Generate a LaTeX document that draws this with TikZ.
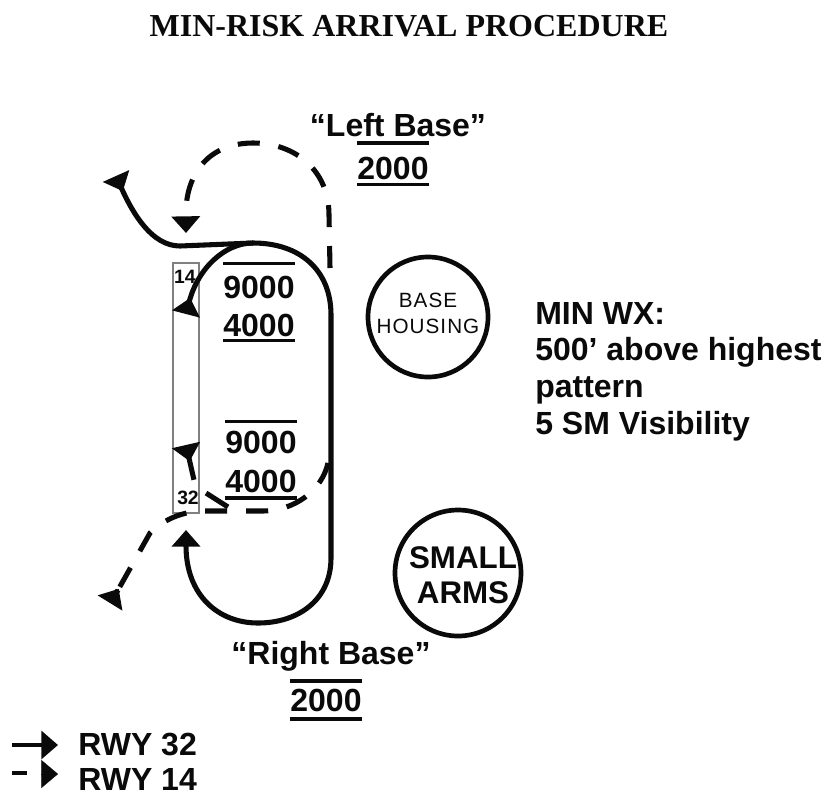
\documentclass[tikz,border=0pt]{standalone}
\usepackage{fontspec}
\setmainfont{Liberation Sans}
\newfontfamily\titlefont{Liberation Serif}
\newfontfamily\spacedfont[LetterSpace=5]{Liberation Sans}
\usepackage{xcolor}
\usetikzlibrary{arrows.meta,positioning}
\definecolor{ink}{HTML}{0A0A0A}
\definecolor{strip}{HTML}{808080}
\tikzset{
  every node/.style={font=\fontsize{24}{27}\selectfont\bfseries,text=ink,inner sep=0pt},
  rwysolid/.style={draw=ink,line width=3.8pt},
  rwydash/.style={draw=ink,line width=3.8pt,dash pattern=on 16.5pt off 14.2pt},
  rulebar/.style={draw=ink,line width=2.5pt},
  keyline/.style={draw=ink,line width=2.4pt},
  headin/.style={-{Triangle[length=12.5pt,width=21pt]}},
  headout/.style={-{Triangle[reversed,length=12.5pt,width=21pt]}},
  alt/.style={minimum width=53pt,minimum height=11.5pt,text depth=0pt},
  zone/.style={circle,draw=ink,line width=3.5pt,align=center},
}
\begin{document}
\begin{tikzpicture}[x=0.75pt,y=-0.75pt]
  \useasboundingbox (0,0) rectangle (824,793);
  \node[font=\fontsize{24}{27}\selectfont\bfseries\titlefont] (title) at (409,26) {MIN-RISK ARRIVAL PROCEDURE};

  \node[draw=strip,line width=1.5pt,minimum width=20pt,minimum height=187.5pt] (rwy) at (186,388) {};
  \node[font=\fontsize{14.5}{16}\selectfont\bfseries] (num14) at (185,277) {14};
  \node[font=\fontsize{14.5}{16}\selectfont\bfseries] (num32) at (188,498) {32};

  \coordinate (exit14) at (116,176);
  \coordinate (top) at (253,243);
  \coordinate (topr) at (331,315);
  \coordinate (botr) at (331,558);
  \coordinate (bot) at (258,623);
  \coordinate (land32) at (186,530);
  \coordinate (land14) at (186,233);
  \coordinate (head14) at (186,314);
  \coordinate (head32) at (186,445);
  \coordinate (exit32) at (110,603);

  \draw[rwysolid,headout] (top) .. controls (225,243) and (198,268) .. (head14);
  \draw[rwysolid,headout] (top) -- (180,246) .. controls (152,246) and (133,214) .. (exit14);
  \draw[rwysolid,headin] (top) .. controls (300,243) and (331,270) .. (topr) -- (botr)
    .. controls (331,600) and (298,623) .. (bot) .. controls (218,623) and (186,595) .. (land32);

  \draw[rwydash,headin] (330,268) -- (329,215) .. controls (329,170) and (295,143) .. (253,143)
    .. controls (212,143) and (185,170) .. (land14);
  \draw[rwydash] (328,463) .. controls (322,490) and (295,511) .. (262,511) -- (205,511)
    .. controls (185,511) and (165,518) .. (150,533) -- (118,590);
  \draw[rwydash,headout] (118,590) -- (exit32);
  \draw[rwydash,headout,dash pattern=on 19.5pt off 13.5pt] (228,507) -- (206,493) -- (194,480) -- (head32);

  \node[alt,minimum height=34.5pt] (a1) at (259,287) {9000};
  \node[alt,minimum height=23pt] (b1) at (259,325) {4000};
  \node[alt,minimum height=30pt] (a2) at (261,442) {9000};
  \node[alt,minimum height=25pt] (b2) at (261,481) {4000};
  \draw[rulebar] (a1.north west) -- (a1.north east);
  \draw[rulebar] (b1.south west) -- (b1.south east);
  \draw[rulebar] (a2.north west) -- (a2.north east);
  \draw[rulebar] (b2.south west) -- (b2.south east);

  \node (leftbase) at (398,125) {“Left Base”};
  \node[minimum width=51pt,minimum height=24pt] (leftalt) at (393,168) {2000};
  \draw[rulebar] ([yshift=6.5pt]leftalt.north west) -- ([yshift=6.5pt]leftalt.north east);
  \draw[rulebar] (leftalt.south west) -- (leftalt.south east);

  \node (rightbase) at (331,656) {“Right Base”};
  \node[minimum width=53pt,minimum height=28pt] (rightalt) at (326,700) {2000};
  \draw[rulebar] (rightalt.north west) -- (rightalt.north east);
  \draw[rulebar] (rightalt.south west) -- (rightalt.south east);

  \node[zone,minimum size=90pt] (housing) at (428,317) {};
  \node[font=\fontsize{15.5}{19.5}\selectfont\spacedfont,align=center] (housingtxt) at (428,313) {BASE\\HOUSING};
  \node[zone,minimum size=94.5pt] (arms) at (458,573) {};
  \node[font=\fontsize{23.5}{26.5}\selectfont\bfseries,align=center] (armstxt) at (463,575) {SMALL\\ARMS};

  \node[anchor=west,align=left,font=\fontsize{24}{27.5}\selectfont\bfseries] (minwx) at (535,371.5) {MIN WX:\\500’ above highest\\pattern\\5 SM Visibility};

  \coordinate (s1) at (12,745);
  \coordinate (s2) at (58,745);
  \coordinate (d1) at (12,773);
  \coordinate (d2) at (27,773);
  \coordinate (d3) at (42,774);
  \coordinate (d4) at (58,774);
  \draw[keyline,headin] (s1) -- (s2);
  \draw[keyline] (d1) -- (d2);
  \draw[draw=ink,line width=0.2pt,headin] (d3) -- (d4);
  \node[anchor=west] (key32) at (78,744) {RWY 32};
  \node[anchor=west] (key14) at (78,779.5) {RWY 14};
\end{tikzpicture}
\end{document}
